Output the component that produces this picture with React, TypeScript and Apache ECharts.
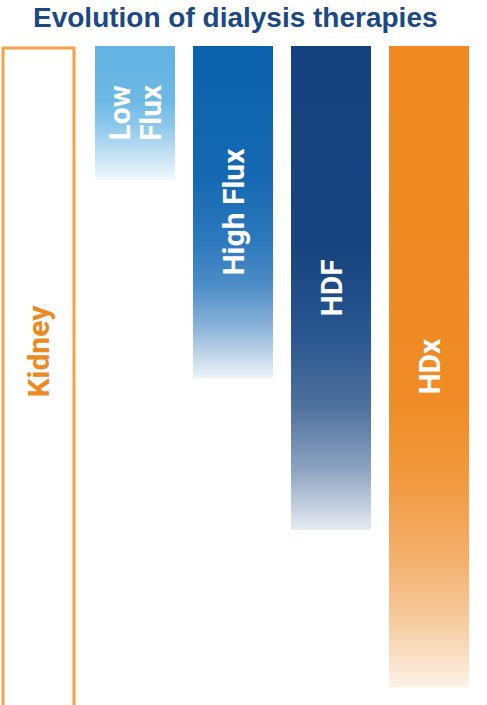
import React, { useEffect, useRef } from "react";
import * as echarts from "echarts";

const titleText = "Evolution of dialysis therapies";
const categories = ["Kidney", "Low Flux", "High Flux", "HDF", "HDx"];
const barLabels = ["Kidney", "Low\nFlux", "High Flux", "HDF", "HDx"];
// depth of each therapy bar (share of the natural kidney, 0-100)
const therapyValues = [20.3, 50.4, 73.4, 97.3];
const kidneyValue = 103; // runs past the bottom edge
// fade of each bar: [offset, colour] stops from top to bottom
const fadeStops: [number, string][][] = [
  [[0, "#63b2e3"], [0.4, "#6cb8e5"], [0.6, "#8fc8eb"], [0.8, "#c0e0f3"], [1, "#f0f8fd"]],
  [[0, "#0a61ac"], [0.4, "#1569b2"], [0.6, "#2f7abd"], [0.72, "#4d8dc7"], [0.85, "#8db4da"], [1, "#ecf3f9"]],
  [[0, "#15427e"], [0.42, "#17447f"], [0.6, "#2a5790"], [0.75, "#50729d"], [0.88, "#8fa5c2"], [1, "#e6ebf2"]],
  [[0, "#ef8a22"], [0.55, "#ef8c25"], [0.68, "#f19a40"], [0.8, "#f3b06c"], [0.9, "#f6cca0"], [1, "#fdf2e7"]],
];

const LABEL_FONT = "Roboto, 'DejaVu Sans Condensed', sans-serif";

export default function App() {
  const ref = useRef<HTMLDivElement>(null);
  useEffect(() => {
    if (!ref.current) return;
    const chart = echarts.init(ref.current, undefined, { renderer: "svg" });
    const therapyData = therapyValues.map((v, i) => ({
      value: v,
      itemStyle: {
        color: new echarts.graphic.LinearGradient(
          0, 0, 0, 1,
          fadeStops[i].map(([offset, color]) => ({ offset, color }))
        ),
      },
      label: {
        show: true,
        position: "inside",
        rotate: 90,
        formatter: barLabels[i + 1],
        color: "#ffffff",
        fontSize: 30,
        lineHeight: 31,
        fontWeight: "bold",
        fontFamily: LABEL_FONT,
      },
    }));
    chart.setOption({
      animation: false,
      title: {
        text: titleText,
        left: 33,
        top: 3,
        padding: 0,
        textStyle: {
          fontFamily: "'Liberation Sans', Arial, sans-serif",
          fontWeight: "bold",
          fontSize: 28,
          color: "#1c4884",
        },
      },
      grid: [
        { left: -12, width: 490, top: 46, bottom: 0, outerBoundsMode: "none", containLabel: false },
        { left: -10.5, width: 490, top: 46.5, bottom: 0, outerBoundsMode: "none", containLabel: false },
      ],
      xAxis: [
        { type: "category", data: categories, gridIndex: 0, show: false },
        { type: "category", data: categories, gridIndex: 1, show: false },
      ],
      yAxis: [
        { type: "value", inverse: true, min: 0, max: 100, gridIndex: 0, show: false },
        { type: "value", inverse: true, min: 0, max: 100, gridIndex: 1, show: false },
      ],
      series: [
        {
          type: "bar",
          xAxisIndex: 0,
          yAxisIndex: 0,
          barWidth: 80,
          silent: true,
          data: ["-", ...therapyData],
        },
        {
          type: "bar",
          xAxisIndex: 1,
          yAxisIndex: 1,
          barWidth: 74,
          clip: false,
          silent: true,
          itemStyle: {
            color: "#ffffff",
            borderColor: "#f5a04a",
            borderWidth: 3,
          },
          label: {
            show: true,
            position: "inside",
            rotate: 90,
            offset: [34, 0],
            formatter: barLabels[0],
            color: "#ef8a22",
            fontSize: 30,
            fontWeight: "bold",
            fontFamily: LABEL_FONT,
          },
          data: [kidneyValue, "-", "-", "-", "-"],
        },
      ],
    });
    return () => chart.dispose();
  }, []);
  return (
    <div
      ref={ref}
      style={{ position: "fixed", left: 0, top: 0, width: 487, height: 705, background: "#ffffff" }}
    />
  );
}
